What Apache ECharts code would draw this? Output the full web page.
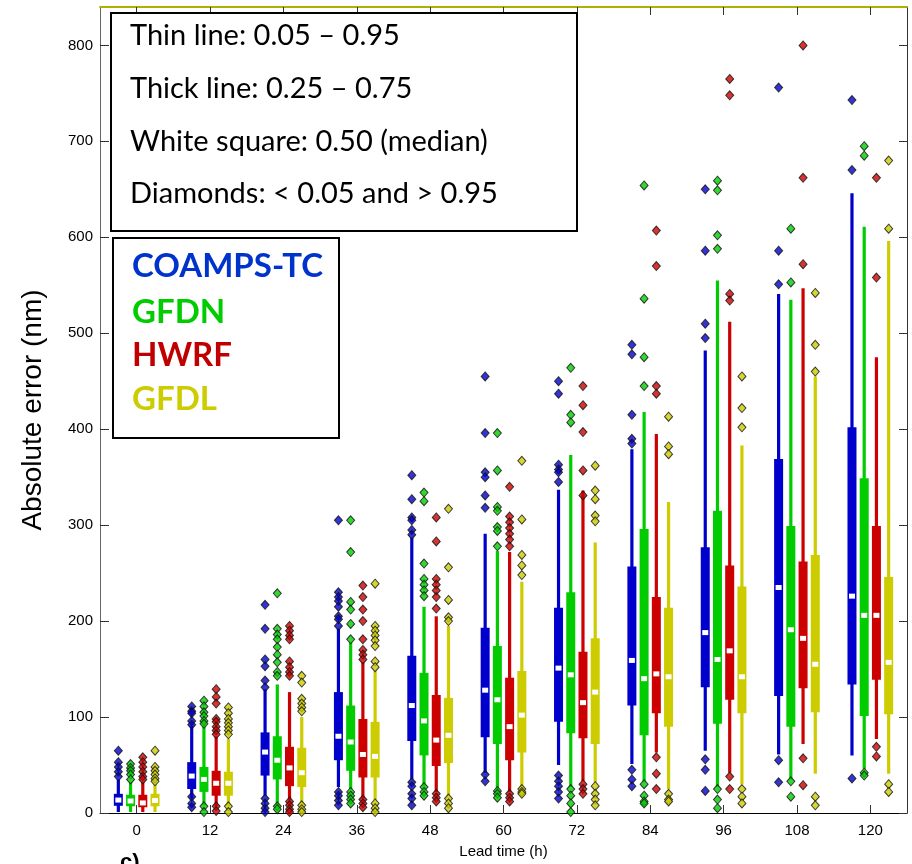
<!DOCTYPE html>
<html lang="en">
<head>
    <meta charset="UTF-8">
    <title>Absolute error box plots</title>
    <style>
      html, body { margin: 0; padding: 0; background: #fff; }
    </style>
</head>
<body>
    <div id="chart" style="width: 912px; height: 864px;"></div>

    <script src="https://cdn.jsdelivr.net/npm/echarts@6/dist/echarts.min.js"></script>
    <script type="text/javascript">
      var leads = [0, 12, 24, 36, 48, 60, 72, 84, 96, 108, 120];
      var yTicks = [0, 100, 200, 300, 400, 500, 600, 700, 800];

      // rows per lead: [p05, p25, p50, p75, p95]
      var coampsBox = [
        [1, 7.5, 13.5, 20, 35], [15, 25, 38.5, 53, 91], [18, 39, 63.5, 84, 129],
        [27, 55, 80, 126, 192], [35, 75, 112, 164, 287], [42, 79, 128, 193, 291],
        [50, 95, 151, 214, 337], [51, 112, 159, 257, 379], [65, 131, 188, 277, 482],
        [61, 122, 235, 369, 541], [60, 134, 226, 402, 646]
      ];
      var gfdnBox = [
        [1, 7, 12.5, 19, 32], [8, 22, 35, 48, 91], [8, 35, 55, 80, 134],
        [25, 44, 74, 112, 178], [28, 60, 96, 146, 215], [25, 72, 118, 174, 273],
        [27, 83, 144, 230, 373], [32, 81, 140, 296, 418], [27, 93, 160, 315, 555],
        [35, 90, 191, 299, 535], [46, 101, 206, 349, 611]
      ];
      var hwrfBox = [
        [1, 6, 10.5, 19, 32], [7, 18, 31, 44, 80], [13, 28, 47, 69, 126],
        [15, 37, 61, 98, 157], [22, 49, 76, 123, 205], [22, 55, 90, 141, 272],
        [33, 78, 115, 168, 336], [63, 104, 145, 225, 395], [42, 118, 169, 258, 512],
        [72, 130, 182, 262, 547], [77, 139, 206, 299, 475]
      ];
      var gfdlBox = [
        [1, 7, 13, 20, 30], [7, 18, 31, 43, 77], [10, 27, 42, 68, 100],
        [13, 37, 59, 95, 148], [18, 52, 81, 120, 195], [28, 63, 102, 148, 241],
        [32, 72, 126, 182, 282], [25, 90, 142, 214, 324], [30, 104, 142, 236, 383],
        [41, 105, 155, 269, 455], [41, 103, 157, 246, 596]
      ];

      // outliers (< 0.05 and > 0.95) per lead
      var coampsOut = [
        [65, 53, 48, 43, 38], [111, 106, 104, 96, 92, 17, 10, 6],
        [217, 192, 160, 153, 138, 131, 15, 10, 5, 1],
        [305, 230, 225, 221, 215, 205, 202, 195, 22, 18, 13, 8],
        [352, 327, 308, 305, 295, 290, 32, 28, 20, 15, 8],
        [455, 396, 355, 350, 331, 318, 40, 33],
        [450, 437, 363, 358, 355, 345, 39, 33, 28, 22, 15],
        [488, 478, 415, 390, 385, 45, 35, 28],
        [650, 586, 510, 495, 56, 45, 23], [756, 586, 551, 55, 32], [743, 670, 36]
      ];
      var gfdnOut = [
        [51, 47, 44, 40, 35], [117, 111, 105, 101, 96, 93, 7, 1],
        [229, 192, 186, 181, 173, 165, 157, 147, 143, 7, 4],
        [305, 272, 220, 212, 197, 181, 22, 18, 14, 10],
        [334, 325, 260, 244, 238, 232, 226, 27, 22, 18],
        [396, 357, 319, 315, 298, 294, 278, 23, 20, 16],
        [464, 415, 407, 25, 18, 10, 1], [654, 536, 475, 445, 30, 18, 12, 10],
        [659, 649, 602, 588, 25, 14, 5], [609, 553, 33, 17], [695, 685, 42, 39]
      ];
      var hwrfOut = [
        [58, 53, 48, 43, 38, 35], [129, 121, 114, 98, 95, 90, 86, 82, 7, 2],
        [195, 190, 185, 181, 158, 152, 147, 143, 12, 8, 4, 1],
        [237, 225, 212, 200, 181, 170, 165, 160, 14, 10, 6],
        [308, 283, 244, 238, 232, 225, 213, 20, 16, 12],
        [340, 309, 303, 297, 291, 285, 278, 20, 16, 12],
        [445, 425, 397, 357, 331, 30, 25, 20], [607, 570, 445, 437, 58, 41, 25],
        [765, 748, 541, 534, 38, 25], [800, 662, 572, 57, 29], [662, 558, 69, 59]
      ];
      var gfdlOut = [
        [65, 48, 44, 40, 36, 33], [110, 104, 98, 94, 90, 86, 82, 7, 1],
        [143, 136, 119, 114, 110, 106, 8, 4, 1],
        [239, 195, 190, 185, 180, 174, 158, 152, 10, 5, 1],
        [317, 256, 222, 204, 200, 15, 10, 5],
        [367, 306, 269, 258, 248, 25, 22, 20],
        [362, 336, 327, 310, 304, 28, 20, 14, 8], [413, 382, 374, 20, 14, 12],
        [455, 422, 402, 25, 17, 10], [542, 488, 460, 17, 8], [680, 609, 30, 22]
      ];

      var models = [
        {name: 'COAMPS-TC', color: '#0000cc', box: coampsBox, out: coampsOut, shift: -3},
        {name: 'GFDN', color: '#00cc00', box: gfdnBox, out: gfdnOut, shift: -1},
        {name: 'HWRF', color: '#cc0000', box: hwrfBox, out: hwrfOut, shift: 1},
        {name: 'GFDL', color: '#cccc00', box: gfdlBox, out: gfdlOut, shift: 3}
      ];

      function renderBox(params, api) {
        var x = api.value(0);
        var lo = api.coord([x, api.value(1)]);
        var q1 = api.coord([x, api.value(2)]);
        var md = api.coord([x, api.value(3)]);
        var q3 = api.coord([x, api.value(4)]);
        var hi = api.coord([x, api.value(5)]);
        var color = api.visual('color');
        return {
          type: 'group',
          children: [
            {type: 'rect', shape: {x: lo[0] - 1.6, y: hi[1], width: 3.2, height: lo[1] - hi[1]}, style: {fill: color}},
            {type: 'rect', shape: {x: q1[0] - 4.5, y: q3[1], width: 9, height: q1[1] - q3[1]}, style: {fill: color}},
            {type: 'rect', shape: {x: md[0] - 3, y: md[1] - 2.5, width: 6, height: 5}, style: {fill: '#fff'}}
          ]
        };
      }

      var series = [];
      models.forEach(function (m) {
        series.push({
          name: m.name,
          type: 'custom',
          renderItem: renderBox,
          itemStyle: {color: m.color},
          encode: {x: 0, y: [1, 2, 3, 4, 5]},
          data: leads.map(function (l, i) { return [l + m.shift].concat(m.box[i]); }),
          z: 2
        });
      });
      models.forEach(function (m) {
        var pts = [];
        leads.forEach(function (l, i) {
          m.out[i].forEach(function (v) { pts.push([l + m.shift, v]); });
        });
        series.push({
          name: m.name + ' out',
          type: 'scatter',
          symbol: 'diamond',
          symbolSize: [8, 9],
          itemStyle: {color: m.color, borderColor: '#111', borderWidth: 1},
          data: pts,
          z: 3
        });
      });

      var legendFont = 'Lato, "Noto Sans", sans-serif';
      var chart = echarts.init(document.getElementById('chart'));
      var option = {
        animation: false,
        textStyle: {fontFamily: 'Liberation Sans, Arial, sans-serif'},
        grid: {left: 100, top: 7, right: 5, bottom: 50},
        xAxis: [{
          type: 'value', min: -6, max: 126,
          name: 'Lead time (h)', nameLocation: 'middle', nameGap: 31,
          nameTextStyle: {fontSize: 15, color: '#000'},
          axisLine: {onZero: false, lineStyle: {color: '#000', width: 1}},
          axisTick: {inside: true, length: 8, customValues: leads, lineStyle: {color: '#333'}},
          axisLabel: {customValues: leads, fontSize: 15, color: '#000', margin: 10},
          splitLine: {show: false}
        }, {
          type: 'value', min: -6, max: 126, position: 'top',
          axisLine: {onZero: false, lineStyle: {color: '#b0b000', width: 2}},
          axisTick: {inside: true, length: 8, customValues: leads, lineStyle: {color: '#333'}},
          axisLabel: {show: false},
          splitLine: {show: false}
        }],
        yAxis: [{
          type: 'value', min: 0, max: 840,
          name: 'Absolute error (nm)', nameLocation: 'middle', nameGap: 53,
          nameTextStyle: {fontSize: 28, color: '#000'},
          axisLine: {onZero: false, lineStyle: {color: '#666', width: 1}},
          axisTick: {inside: true, length: 9, customValues: yTicks, lineStyle: {color: '#333'}},
          axisLabel: {customValues: yTicks, fontSize: 15, color: '#000', margin: 7},
          splitLine: {show: false}
        }, {
          type: 'value', min: 0, max: 840, position: 'right',
          axisLine: {onZero: false, lineStyle: {color: '#333', width: 1}},
          axisTick: {inside: true, length: 8, customValues: yTicks, lineStyle: {color: '#333'}},
          axisLabel: {show: false},
          splitLine: {show: false}
        }],
        graphic: [
          {type: 'rect', left: 110, top: 12, shape: {width: 466, height: 218},
           style: {fill: '#fff', stroke: '#000', lineWidth: 2}, z: 10},
          {type: 'text', left: 130, top: 21, z: 11,
           style: {text: 'Thin line: 0.05 \u2013 0.95', fontSize: 29, fontFamily: legendFont, fill: '#000'}},
          {type: 'text', left: 130, top: 74, z: 11,
           style: {text: 'Thick line: 0.25 \u2013 0.75', fontSize: 29, fontFamily: legendFont, fill: '#000'}},
          {type: 'text', left: 130, top: 127, z: 11,
           style: {text: 'White square: 0.50 (median)', fontSize: 29, fontFamily: legendFont, fill: '#000'}},
          {type: 'text', left: 130, top: 179, z: 11,
           style: {text: 'Diamonds: < 0.05 and > 0.95', fontSize: 29, fontFamily: legendFont, fill: '#000'}},
          {type: 'rect', left: 112, top: 237, shape: {width: 226, height: 200},
           style: {fill: '#fff', stroke: '#000', lineWidth: 2}, z: 10},
          {type: 'text', left: 132, top: 250, z: 11,
           style: {text: 'COAMPS-TC', fontSize: 33, fontWeight: 'bold', fontFamily: legendFont, fill: '#0033cc'}},
          {type: 'text', left: 132, top: 296, z: 11,
           style: {text: 'GFDN', fontSize: 33, fontWeight: 'bold', fontFamily: legendFont, fill: '#00cc00'}},
          {type: 'text', left: 132, top: 339, z: 11,
           style: {text: 'HWRF', fontSize: 33, fontWeight: 'bold', fontFamily: legendFont, fill: '#c00000'}},
          {type: 'text', left: 132, top: 383, z: 11,
           style: {text: 'GFDL', fontSize: 33, fontWeight: 'bold', fontFamily: legendFont, fill: '#cccc00'}},
          {type: 'text', left: 120, top: 852, z: 11,
           style: {text: 'c)', fontSize: 22, fontWeight: 'bold', fill: '#000'}}
        ],
        series: series
      };
      chart.setOption(option);
    </script>
</body>
</html>
